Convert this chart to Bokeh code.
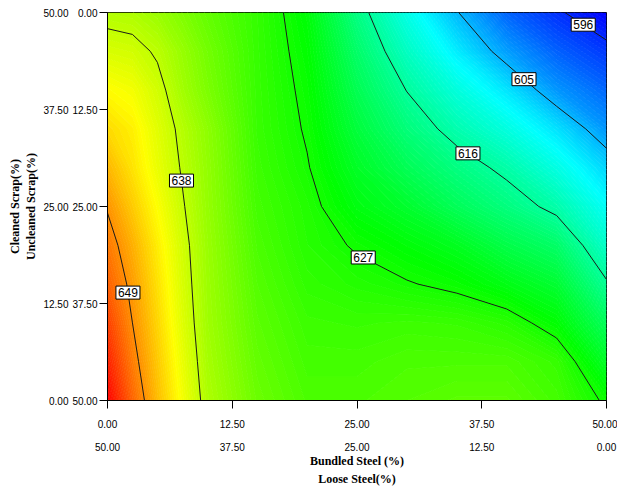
import numpy as np
from bokeh.plotting import figure
from bokeh.models import Range1d, LinearAxis, FixedTicker, ColumnDataSource
from bokeh.embed import file_html
from bokeh.resources import INLINE
from bokeh.core.properties import value

# ---- data ----
bundled_steel = [0, 2.5, 5, 7.5, 10, 15, 20, 25, 30, 35, 40, 45, 50]   # x, %
cleaned_scrap = [0, 5, 10, 15, 20, 25, 30, 35, 40, 45, 50]             # y, %

# response values along bundled_steel, one row per cleaned_scrap level
resp_c00 = [658.0, 651.7, 646.1, 641.3, 636.8, 632.5, 630.5, 630.5, 631.0, 631.5, 631.5, 630.0, 626.5]
resp_c05 = [656.0, 650.2, 645.3, 640.6, 636.3, 632.0, 630.0, 630.0, 630.5, 630.5, 630.5, 629.2, 623.3]
resp_c10 = [654.0, 649.0, 644.5, 639.9, 635.9, 631.5, 629.5, 629.3, 629.5, 629.3, 628.4, 625.6, 620.0]
resp_c15 = [652.0, 648.1, 643.75, 639.4, 635.7, 631.0, 628.8, 628.0, 627.2, 626.3, 624.5, 622.6, 616.4]
resp_c20 = [650.5, 646.9, 642.95, 639.0, 635.5, 630.5, 628.2, 626.7, 625.3, 623.8, 621.2, 619.3, 613.0]
resp_c25 = [648.7, 645.2, 641.75, 638.3, 635.2, 630.0, 627.9, 624.8, 622.9, 620.2, 617.8, 615.0, 610.0]
resp_c30 = [646.5, 643.6, 640.6, 637.7, 635.0, 629.6, 627.2, 623.4, 620.4, 617.65, 615.15, 611.4, 607.0]
resp_c35 = [644.2, 642.8, 640.0, 637.2, 634.7, 629.3, 626.7, 622.0, 618.1, 614.7, 611.6, 607.8, 603.0]
resp_c40 = [642.0, 641.2, 639.0, 636.0, 633.6, 629.2, 626.3, 620.6, 615.9, 611.8, 608.0, 603.0, 600.0]
resp_c45 = [639.4, 639.0, 637.6, 635.3, 633.0, 629.1, 625.8, 619.2, 613.5, 608.5, 603.5, 599.6, 597.0]
resp_c50 = [637.0, 636.7, 635.5, 633.8, 632.0, 629.0, 625.2, 617.5, 611.1, 605.2, 599.8, 596.5, 593.5]

contour_levels = [596, 605, 616, 627, 638, 649]

tick_vals = [0, 12.5, 25, 37.5, 50]
bundled_labels = ["0.00", "12.50", "25.00", "37.50", "50.00"]
loose_labels = ["50.00", "37.50", "25.00", "12.50", "0.00"]
cleaned_labels = ["0.00", "12.50", "25.00", "37.50", "50.00"]
uncleaned_labels = ["50.00", "37.50", "25.00", "12.50", "0.00"]

z = np.array([resp_c00, resp_c05, resp_c10, resp_c15, resp_c20, resp_c25,
              resp_c30, resp_c35, resp_c40, resp_c45, resp_c50])
xg = np.array(bundled_steel, float)
yg = np.array(cleaned_scrap, float)

# ---- colour ramp blue-cyan-green-yellow-red ----
anchors = [(0, 0, 255), (0, 255, 255), (0, 255, 0), (255, 255, 0), (255, 0, 0)]
zmin, zmax = float(z.min()), float(z.max())


def ramp(v):
    t = (v - zmin) / (zmax - zmin)
    t = min(max(t, 0.0), 1.0) * 4
    i = min(int(t), 3)
    f = t - i
    c0, c1 = anchors[i], anchors[i + 1]
    return "#%02x%02x%02x" % tuple(int(round(a + (b - a) * f)) for a, b in zip(c0, c1))


fill_levels = np.linspace(zmin - 0.05, zmax + 0.05, 161)
band_colors = [ramp(0.5 * (a + b)) for a, b in zip(fill_levels[:-1], fill_levels[1:])]
edge_colors = [ramp(v) for v in fill_levels]

p = figure(width=617, height=488, x_range=Range1d(0, 50), y_range=Range1d(0, 50),
           output_backend="svg", toolbar_location=None,
           x_axis_location=None, y_axis_location=None,
           min_border_left=107, min_border_right=11, min_border_top=12, min_border_bottom=88)
p.grid.visible = False
p.outline_line_color = "black"
p.outline_line_width = 1
p.background_fill_color = "white"
p.border_fill_color = "white"

p.contour(xg, yg, z, levels=fill_levels, fill_color=band_colors,
          line_color=edge_colors, line_width=1)
lines = p.contour(xg, yg, z, levels=contour_levels, line_color="#1a1a1a", line_width=1)

# ---- contour labels placed along the computed contour lines ----
label_frac = {596: 0.44, 605: 0.465, 616: 0.48, 627: 0.48, 638: 0.455, 649: 0.43}
sx, sy = 499 / 50.0, 387.5 / 50.0
ldata = lines.line_renderer.data_source.data
lab_x, lab_y, lab_t = [], [], []
for lev, xs, ys in zip(contour_levels, ldata["xs"], ldata["ys"]):
    xs = np.asarray(xs, float)
    ys = np.asarray(ys, float)
    nan = np.isnan(xs)
    pieces, cur = [], []
    for k in range(len(xs)):
        if nan[k]:
            if cur:
                pieces.append(cur)
            cur = []
        else:
            cur.append(k)
    if cur:
        pieces.append(cur)
    if not pieces:
        continue
    best = max(pieces, key=len)
    px, py = xs[best], ys[best]
    if py[0] < py[-1]:
        px, py = px[::-1], py[::-1]
    seg = np.hypot(np.diff(px) * sx, np.diff(py) * sy)
    cum = np.concatenate([[0], np.cumsum(seg)])
    target = cum[-1] * label_frac[int(round(lev))]
    lab_x.append(float(np.interp(target, cum, px)))
    lab_y.append(float(np.interp(target, cum, py)))
    lab_t.append(str(int(round(lev))))

src = ColumnDataSource(dict(x=lab_x, y=lab_y, text=lab_t))
p.text(x="x", y="y", text="text", source=src, text_align="center", text_baseline="middle",
       text_font=value("Liberation Sans"), text_font_size="12px", text_color="black",
       background_fill_color="white", border_line_color="black", border_line_width=1,
       padding=2)

tick_font = "Liberation Sans"
title_font = "Liberation Serif"


def style_ticks(ax):
    ax.major_label_text_font = tick_font
    ax.major_label_text_font_size = "10px"
    ax.major_label_text_color = "black"
    ax.minor_tick_line_color = None
    ax.major_tick_in = 0


def style_title(ax):
    ax.axis_label_text_font = title_font
    ax.axis_label_text_font_size = "12px"
    ax.axis_label_text_font_style = "bold"
    ax.axis_label_text_color = "black"


# bottom axes
x_in = LinearAxis(ticker=FixedTicker(ticks=tick_vals),
                  major_label_overrides=dict(zip(tick_vals, bundled_labels)))
style_ticks(x_in)
x_in.major_tick_out = 8
x_in.major_label_standoff = 11
x_in.axis_line_color = "black"
x_in.major_tick_line_color = "black"

x_out = LinearAxis(ticker=FixedTicker(ticks=tick_vals),
                   major_label_overrides=dict(zip(tick_vals, loose_labels)))
style_ticks(x_out)
x_out.major_tick_out = 0
x_out.major_tick_line_color = None
x_out.axis_line_color = None
x_out.major_label_standoff = 12
x_out.axis_label = "Bundled Steel (%)"
x_out.axis_label_standoff = 0
style_title(x_out)

x_ttl = LinearAxis(ticker=FixedTicker(ticks=[]))
style_ticks(x_ttl)
x_ttl.major_tick_out = 0
x_ttl.major_tick_line_color = None
x_ttl.axis_line_color = None
x_ttl.major_label_standoff = 0
x_ttl.axis_label = "Loose Steel(%)"
x_ttl.axis_label_standoff = 1
style_title(x_ttl)

p.add_layout(x_in, "below")
p.add_layout(x_out, "below")
p.add_layout(x_ttl, "below")

# left axes
y_in = LinearAxis(ticker=FixedTicker(ticks=tick_vals),
                  major_label_overrides=dict(zip(tick_vals, uncleaned_labels)))
style_ticks(y_in)
y_in.major_tick_out = 8
y_in.major_label_standoff = 2
y_in.axis_line_color = "black"
y_in.major_tick_line_color = "black"

y_out = LinearAxis(ticker=FixedTicker(ticks=tick_vals),
                   major_label_overrides=dict(zip(tick_vals, cleaned_labels)))
style_ticks(y_out)
y_out.major_tick_out = 0
y_out.major_tick_line_color = None
y_out.axis_line_color = None
y_out.major_label_standoff = 1
y_out.axis_label = "Cleaned Scrap(%)\nUncleaned Scrap(%)"
y_out.axis_label_standoff = 2
style_title(y_out)

p.add_layout(y_in, "left")
p.add_layout(y_out, "left")

open("out.html", "w").write(file_html(p, INLINE))
